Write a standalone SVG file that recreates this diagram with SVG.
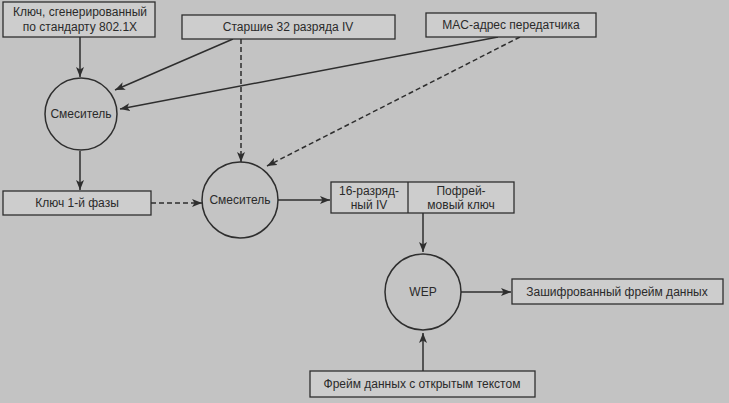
<svg xmlns="http://www.w3.org/2000/svg" width="729" height="403" viewBox="0 0 729 403">
<defs>
<marker id="ah" viewBox="0 0 10 8" refX="10" refY="4" markerWidth="10" markerHeight="8" markerUnits="userSpaceOnUse" orient="auto">
<path d="M0,0 L10,4 L0,8 L2.5,4 Z" fill="#2e2e2e"/>
</marker>
</defs>
<style>
.bx{fill:#cdcdcd;stroke:#2e2e2e;stroke-width:1.3}
.cr{fill:#c4c4c4;stroke:#2e2e2e;stroke-width:1.5}
.t{font-family:"Liberation Sans","DejaVu Sans",sans-serif;font-size:12px;fill:#2a2a2a;text-anchor:middle}
.ln{stroke:#2e2e2e;stroke-width:1.5;fill:none;marker-end:url(#ah)}
.ds{stroke-dasharray:5,3}
</style>
<rect width="729" height="403" fill="#c3c3c3"/>
<g id="connectors">
<line class="ln" x1="80" y1="37" x2="80" y2="77"/>
<line class="ln" x1="80" y1="151" x2="80" y2="190"/>
<line class="ln" x1="233" y1="39" x2="115" y2="90"/>
<line class="ln" x1="498" y1="37" x2="120" y2="109"/>
<line class="ln ds" x1="241" y1="39" x2="241" y2="162"/>
<line class="ln ds" x1="520" y1="37" x2="267" y2="166"/>
<line class="ln ds" x1="151" y1="203" x2="202" y2="203"/>
<line class="ln" x1="278" y1="200" x2="330" y2="200"/>
<line class="ln" x1="423" y1="213" x2="423" y2="252"/>
<line class="ln" x1="461" y1="292" x2="511" y2="292"/>
<line class="ln" x1="423" y1="371" x2="423" y2="333"/>
</g>
<g id="key8021x">
<rect class="bx" x="3" y="2" width="152" height="35"/>
<text class="t" x="80" y="16">Ключ, сгенерированный</text>
<text class="t" x="80" y="31">по стандарту 802.1X</text>
</g>
<g id="iv32">
<rect class="bx" x="182" y="15" width="213" height="24"/>
<text class="t" x="288" y="31">Старшие 32 разряда IV</text>
</g>
<g id="mac">
<rect class="bx" x="426" y="13" width="170" height="24"/>
<text class="t" x="511" y="29">MAC-адрес передатчика</text>
</g>
<g id="mixer1">
<circle class="cr" cx="81" cy="114" r="36"/>
<text class="t" x="81" y="118">Смеситель</text>
</g>
<g id="phase1key">
<rect class="bx" x="3" y="191" width="148" height="24"/>
<text class="t" x="77" y="207">Ключ 1-й фазы</text>
</g>
<g id="mixer2">
<circle class="cr" cx="240" cy="200" r="38"/>
<text class="t" x="240" y="204">Смеситель</text>
</g>
<g id="ivkey">
<rect class="bx" x="331" y="182" width="183" height="31"/>
<line x1="408" y1="182" x2="408" y2="213" stroke="#2e2e2e" stroke-width="1.3"/>
<text class="t" x="369" y="195">16-разряд-</text>
<text class="t" x="369" y="209">ный IV</text>
<text class="t" x="461" y="195">Пофрей-</text>
<text class="t" x="461" y="209">мовый ключ</text>
</g>
<g id="wep">
<circle class="cr" cx="423" cy="292" r="38"/>
<text class="t" x="423" y="296">WEP</text>
</g>
<g id="encframe">
<rect class="bx" x="512" y="279" width="211" height="25"/>
<text class="t" x="617" y="296">Зашифрованный фрейм данных</text>
</g>
<g id="plainframe">
<rect class="bx" x="310" y="371" width="225" height="26"/>
<text class="t" x="422" y="388">Фрейм данных с открытым текстом</text>
</g>
</svg>
